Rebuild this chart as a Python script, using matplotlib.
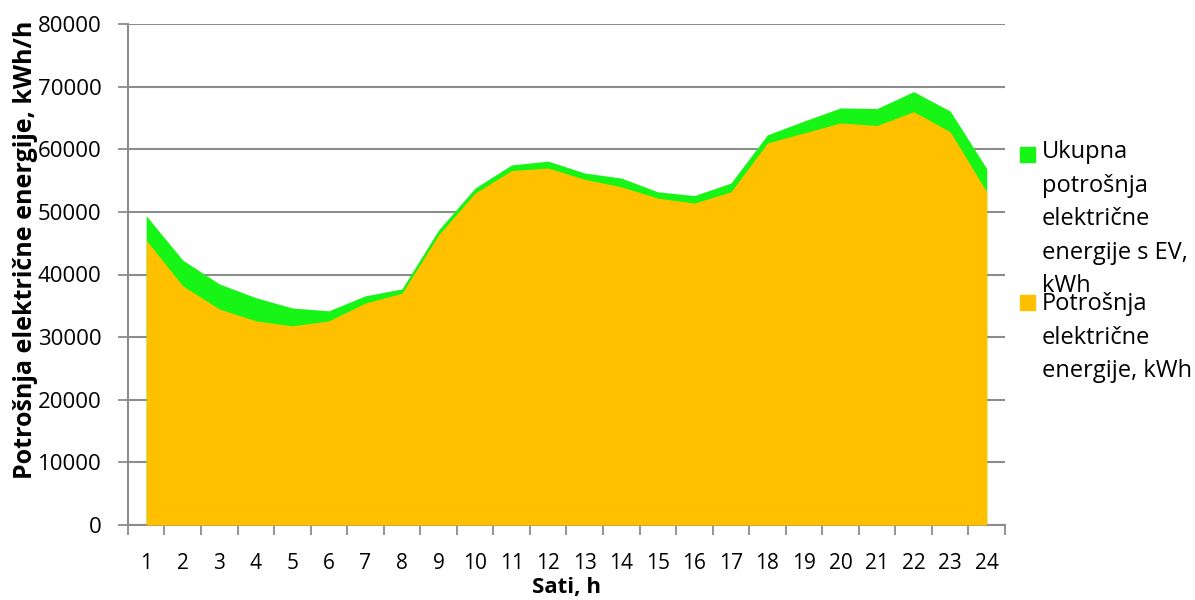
import numpy as np
import matplotlib.pyplot as plt
from matplotlib.patches import Rectangle

plt.rcParams['font.family'] = ['Open Sans', 'DejaVu Sans']

# hours of the day
sati = list(range(1, 25))

# total consumption with EV charging, kWh
ukupno_ev = [49400, 42300, 38500, 36300, 34650, 34200, 36600, 37700,
             47100, 53800, 57500, 58100, 56200, 55400, 53200, 52600,
             54600, 62300, 64500, 66600, 66500, 69200, 66100, 56900]

# base consumption, kWh
potrosnja = [45500, 38200, 34500, 32600, 31800, 32600, 35450, 37000,
             46300, 53000, 56600, 57000, 55200, 54000, 52200, 51400,
             53200, 61000, 62600, 64200, 63800, 66000, 62800, 53200]

legend_labels = ['Ukupna\npotrošnja\nelektrične\nenergije s EV,\nkWh',
                 'Potrošnja\nelektrične\nenergije, kWh']
green = '#16F516'
orange = '#FFC000'
grid_c = '#8C8C8C'

fig = plt.figure(figsize=(11.95, 6), dpi=100)
ax = fig.add_axes([0.107, 0.125, 0.734, 0.835])

x = np.array(sati)
ax.fill_between(x, 0, ukupno_ev, color=green, linewidth=0, zorder=2)
ax.fill_between(x, 0, potrosnja, color=orange, linewidth=0, zorder=3)

ax.set_xlim(0.5, 24.5)
ax.set_ylim(0, 80000)
ax.set_yticks(np.arange(0, 80001, 10000))
ax.yaxis.grid(True, color=grid_c, linewidth=1.5, zorder=1)
ax.set_axisbelow(True)

ax.set_xticks(x)
ax.set_xticklabels([str(s) for s in sati])
ax.set_xticks(np.arange(0.5, 25, 1), minor=True)
ax.tick_params(axis='x', which='major', length=0, pad=20, labelsize=15)
ax.tick_params(axis='x', which='minor', length=7, width=1.3, color=grid_c)
ax.tick_params(axis='y', length=7, width=1.3, color=grid_c, labelsize=16, pad=12)

for s in ['top', 'right']:
    ax.spines[s].set_visible(False)
for s in ['left', 'bottom']:
    ax.spines[s].set_color(grid_c)
    ax.spines[s].set_linewidth(1.5)

ax.set_xlabel('Sati, h', fontsize=16, fontweight='bold')
ax.xaxis.set_label_coords(0.5, -0.104)
ax.set_ylabel('Potrošnja električne energije, kWh/h', fontsize=18,
              fontweight='bold')
ax.yaxis.set_label_coords(-0.103, 0.549)

# legend, drawn by hand to match the wrapped layout
entries = [(green, legend_labels[0], 147, 140),
           (orange, legend_labels[1], 295, 292)]
for col, lab, sq_top, txt_top in entries:
    fig.patches.append(Rectangle((1020 / 1195, 1 - (sq_top + 15) / 600),
                                 15 / 1195, 15 / 600,
                                 transform=fig.transFigure, color=col))
    fig.text(1042 / 1195, 1 - txt_top / 600, lab, fontsize=17, va='top',
             ha='left', linespacing=1.53)

fig.savefig('out.png', dpi=100)
